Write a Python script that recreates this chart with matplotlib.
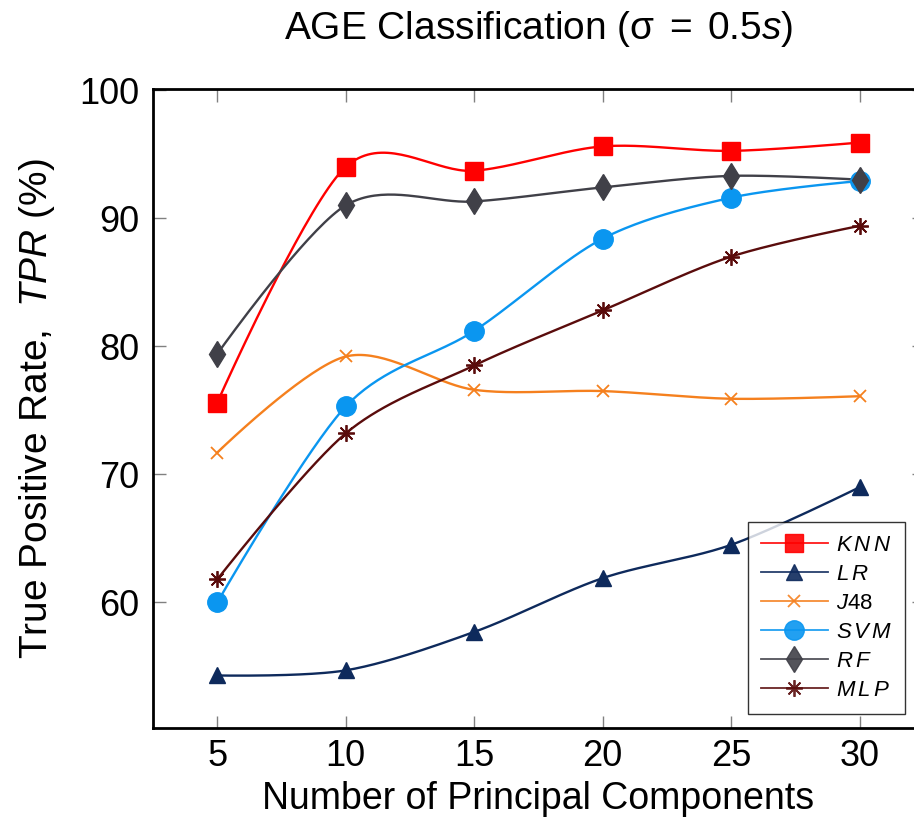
import numpy as np
import matplotlib
matplotlib.use("Agg")
import matplotlib.pyplot as plt

plt.rcParams['font.family'] = ['Liberation Sans', 'DejaVu Sans']
plt.rcParams['mathtext.fontset'] = 'custom'
plt.rcParams['mathtext.rm'] = 'Liberation Sans'
plt.rcParams['mathtext.it'] = 'Liberation Sans:italic'
plt.rcParams['mathtext.sf'] = 'Liberation Sans'

x_pc = [5, 10, 15, 20, 25, 30]
knn = [75.6, 94.0, 93.7, 95.6, 95.25, 95.9]
lr = [54.3, 54.7, 57.7, 61.9, 64.5, 69.0]
j48 = [71.7, 79.2, 76.6, 76.5, 75.9, 76.1]
svm = [60.0, 75.3, 81.2, 88.4, 91.6, 92.9]
rf = [79.4, 91.0, 91.3, 92.4, 93.3, 93.0]
mlp = [61.8, 73.2, 78.5, 82.8, 87.0, 89.4]

labels = [r'$K\,N\,N$', r'$L\,R$', r'$J$48', r'$S\,V\,M$', r'$R\,F$', r'$M\,L\,P$']
series = [knn, lr, j48, svm, rf, mlp]
colors = ['#ff0000', '#0e2a5c', '#f5801e', '#0a96f0', '#404048', '#5a0c0c']
markers = ['s', '^', 'x', 'o', 'd', (8, 2, 0)]
msizes = [12.5, 12, 9, 14, 13, 12]
mews = [1, 1, 1.3, 1, 1, 1.3]


def smooth(xs, ys, t=0.152625, n=40):
    p = np.column_stack([xs, ys]).astype(float)
    m = len(p)
    out = []
    for i in range(m - 1):
        p0, p3 = p[i], p[i + 1]
        c1 = p0 + t * (p[i + 1] - p[i - 1]) if i > 0 else p0
        c2 = p3 - t * (p[i + 2] - p[i]) if i + 2 < m else p3
        s = np.linspace(0, 1, n)[:, None]
        seg = ((1 - s) ** 3) * p0 + 3 * ((1 - s) ** 2) * s * c1 + 3 * (1 - s) * s ** 2 * c2 + s ** 3 * p3
        out.append(seg if i == 0 else seg[1:])
    out = np.vstack(out)
    return out[:, 0], out[:, 1]


W, H = 914, 831
fig = plt.figure(figsize=(W / 100, H / 100), dpi=100)
ax = fig.add_axes([153 / W, (H - 728) / H, (924 - 153) / W, (728 - 89) / H])

for ys, lab, c, mk, ms, mew in zip(series, labels, colors, markers, msizes, mews):
    sx, sy = smooth(x_pc, ys)
    ax.plot(sx, sy, color=c, lw=1.7, zorder=2)
    ax.plot(x_pc, ys, linestyle='none', marker=mk, ms=ms, color=c, mec=c, mew=mew, zorder=3)
    ax.plot([], [], color=c, lw=1.3, alpha=0.9, marker=mk, ms=ms, mec=c, mew=mew, label=lab)

ax.set_xlim(2.5, 32.5)
ax.set_ylim(50.2, 100.08)
ax.set_xticks(x_pc)
ax.set_yticks([60, 70, 80, 90, 100])
ax.tick_params(direction='in', length=9, width=1, color='#808080', labelsize=26,
               top=True, right=True)
ax.tick_params(axis='x', pad=8)
ax.tick_params(axis='y', pad=10)
for sp in ax.spines.values():
    sp.set_linewidth(2)
    sp.set_color('black')

ax.set_title(r'AGE Classification ($\mathrm{\sigma}\;=\;0.5\mathit{s}$)', fontsize=28, pad=36)
ax.set_xlabel('Number of Principal Components', fontsize=27, labelpad=5)
ax.set_ylabel(r'True Positive Rate,  $TPR$ (%)', fontsize=28, labelpad=16)

leg = ax.legend(loc='lower left', bbox_to_anchor=((748 - 153) / (924 - 153), (728 - 714) / (728 - 89)),
                fontsize=16, frameon=True, fancybox=False, edgecolor='black',
                handlelength=3.0, labelspacing=0.36, borderpad=0.58, handletextpad=0.36,
                borderaxespad=0)
leg.get_frame().set_linewidth(1)

fig.savefig('out.png', dpi=100)
